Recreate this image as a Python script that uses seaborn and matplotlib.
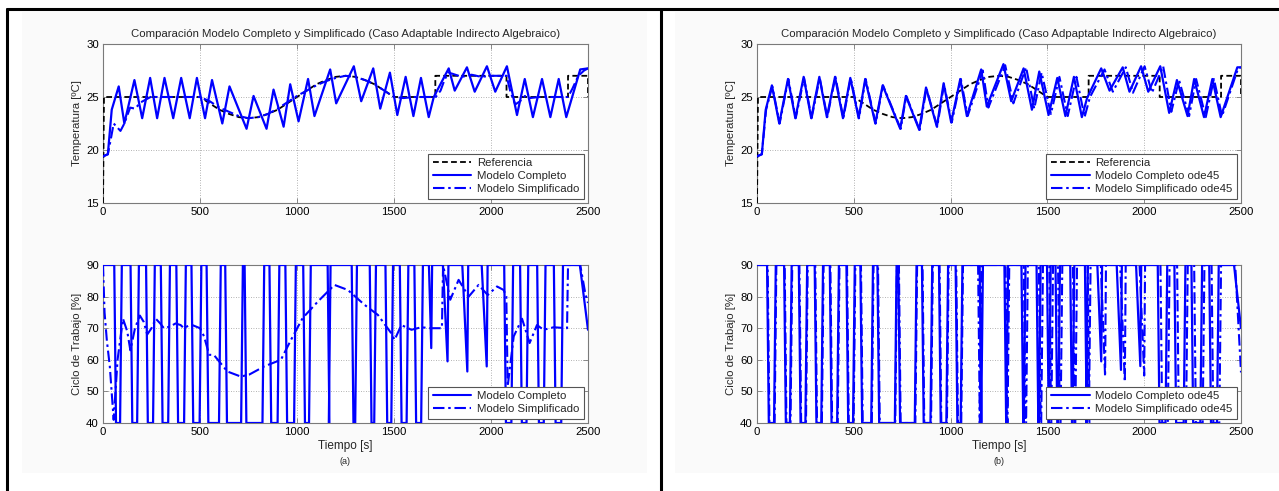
import matplotlib
matplotlib.use("Agg")
import matplotlib.pyplot as plt
import seaborn as sns
import pandas as pd
from matplotlib.lines import Line2D
from matplotlib.patches import Rectangle

# ---------------------------------------------------------------- data
# Reference temperature profile [s], [ºC]
ref_t = [0, 5, 500, 550, 600, 650, 700, 750, 800, 850, 900, 950, 1000, 1050,
         1100, 1150, 1200, 1250, 1300, 1350, 1400, 1450, 1500, 1713, 1713,
         2080, 2080, 2397, 2397, 2500, 2500]
ref_T = [15, 25, 25, 24.4, 23.8, 23.4, 23.1, 23.0, 23.1, 23.4, 23.8, 24.4, 25.0, 25.6,
         26.2, 26.6, 26.9, 27.0, 26.9, 26.6, 26.2, 25.6, 25.0, 25.0, 27.0,
         27.0, 25.0, 25.0, 27.0, 27.0, 25.0]

# (a) full model temperature
a_full_t = [0, 25, 45, 81, 110, 162, 202, 243, 279, 317, 362, 403, 447, 484, 526,
            562, 615, 652, 740, 776, 843, 879, 931, 965, 1008, 1057, 1090, 1171,
            1202, 1293, 1331, 1393, 1429, 1479, 1517, 1560, 1600, 1639, 1679,
            1705, 1782, 1813, 1876, 1916, 1979, 2022, 2082, 2134, 2174, 2216,
            2263, 2306, 2349, 2388, 2460, 2500]
a_full_T = [19.4, 19.6, 23.8, 26.0, 22.5, 26.6, 23.0, 26.8, 23.0, 26.8, 23.0, 26.8,
            23.0, 26.8, 23.0, 26.6, 22.5, 26.0, 22.0, 25.1, 22.0, 25.7, 22.2, 26.2,
            22.7, 26.7, 23.2, 27.6, 24.4, 27.9, 24.6, 27.7, 23.9, 27.3, 23.3, 26.9,
            23.2, 26.8, 23.1, 25.0, 27.7, 25.6, 27.8, 25.5, 27.9, 25.5, 27.9, 23.3,
            26.7, 23.1, 26.7, 23.1, 26.7, 23.1, 27.6, 27.7]

# (a) simplified model temperature
a_simp_t = [0, 25, 40, 55, 70, 90, 110, 140, 165, 195, 245, 300, 500, 550, 600,
            650, 700, 750, 800, 850, 900, 950, 1000, 1050, 1100, 1150, 1200,
            1250, 1300, 1350, 1400, 1450, 1500, 1550, 1600, 1650, 1715, 1740,
            1760, 1780, 1800, 1850, 1900, 1950, 2000, 2050, 2080, 2100, 2125,
            2150, 2175, 2200, 2250, 2300, 2397, 2420, 2450, 2480, 2500]
a_simp_T = [19.4, 19.6, 21.0, 22.5, 22.2, 21.8, 22.5, 24.0, 23.9, 24.5, 25.0, 25.0,
            25.0, 24.6, 24.0, 23.6, 23.2, 23.0, 23.1, 23.4, 23.9, 24.5, 25.1, 25.6,
            26.1, 26.5, 26.8, 27.0, 26.9, 26.6, 26.2, 25.6, 25.0, 24.9, 25.0, 25.0,
            25.0, 25.6, 26.6, 27.3, 27.2, 26.9, 27.1, 26.9, 27.0, 27.0, 27.0, 25.5,
            24.3, 24.6, 25.1, 24.9, 25.0, 25.0, 25.0, 25.8, 27.0, 27.5, 27.7]

# (b) full model temperature (ode45)
b_full_t = [0, 25, 45, 77, 115, 160, 198, 241, 280, 322, 361, 403, 444, 482, 525,
            559, 611, 649, 740, 769, 838, 873, 929, 964, 1003, 1050, 1084, 1158,
            1187, 1273, 1313, 1377, 1420, 1458, 1506, 1551, 1593, 1637, 1678,
            1705, 1778, 1821, 1889, 1924, 1984, 2021, 2083, 2129, 2169, 2224,
            2258, 2309, 2352, 2395, 2481, 2500]
b_full_T = [19.4, 19.6, 23.8, 26.1, 22.5, 26.7, 23.0, 26.9, 23.0, 26.9, 23.1, 26.9,
            23.0, 26.8, 23.0, 26.7, 22.5, 26.1, 22.0, 25.1, 21.9, 25.9, 22.2, 26.3,
            22.6, 26.7, 23.2, 27.6, 24.1, 28.1, 24.6, 27.7, 23.8, 27.4, 23.3, 26.8,
            23.2, 26.9, 23.1, 24.9, 27.7, 25.6, 27.8, 25.5, 27.9, 25.5, 27.9, 23.5,
            26.6, 23.2, 26.7, 23.1, 26.7, 23.1, 27.8, 27.8]

# (b) simplified model temperature (ode45)
b_simp_t = [0, 25, 47, 79, 117, 162, 200, 243, 282, 324, 363, 405, 446, 484, 527,
            561, 613, 651, 742, 771, 840, 875, 931, 966, 1006, 1053, 1088, 1166,
            1195, 1282, 1324, 1390, 1432, 1470, 1518, 1562, 1605, 1650, 1692,
            1720, 1795, 1838, 1905, 1942, 2002, 2040, 2098, 2140, 2180, 2232,
            2268, 2318, 2360, 2402, 2485, 2500]
b_simp_T = [19.4, 19.6, 23.8, 26.0, 22.5, 26.7, 23.0, 26.8, 23.0, 26.8, 23.1, 26.9,
            23.0, 26.8, 23.0, 26.7, 22.5, 26.1, 22.0, 25.1, 21.9, 25.8, 22.2, 26.2,
            22.6, 26.7, 23.2, 27.5, 24.0, 28.0, 24.4, 27.8, 23.9, 27.3, 23.4, 26.9,
            23.2, 26.9, 23.1, 25.0, 27.6, 25.5, 27.8, 25.4, 27.9, 25.4, 27.9, 23.6,
            26.6, 23.2, 26.7, 23.1, 26.7, 23.2, 27.7, 27.8]

# Duty cycle of the switching controllers: heater-off windows
# (start of fall, start of rise, lowest value) and shallow dips
# (start of fall, time of minimum, lowest value)
a_full_off = [(58, 88, 40), (142, 176, 40), (222, 258, 40), (298, 336, 40),
              (378, 418, 40), (456, 498, 40), (534, 598, 40), (630, 712, 40),
              (730, 822, 40), (858, 900, 40), (940, 985, 40), (1032, 1062, 40),
              (1158, 1164, 40), (1282, 1300, 40), (1375, 1398, 40),
              (1456, 1486, 40), (1530, 1565, 40), (1605, 1640, 40),
              (2068, 2105, 40), (2150, 2183, 40), (2238, 2272, 40),
              (2324, 2362, 40)]
a_full_dips = [(1680, 1692, 63.7), (1752, 1776, 59.5), (1852, 1878, 56.3),
               (1952, 1978, 57.9)]
a_full_end = (2458, 69.5)

b_full_off = [(52, 88, 40), (140, 170, 40), (216, 250, 40), (298, 332, 40),
              (376, 414, 40), (462, 496, 40), (534, 590, 40), (622, 712, 40),
              (730, 815, 40), (852, 896, 40), (940, 978, 40), (1026, 1052, 40),
              (1150, 1158, 40), (1278, 1288, 40), (1366, 1378, 40),
              (1444, 1456, 40), (1498, 1508, 40), (1542, 1556, 40),
              (1618, 1630, 40), (1694, 1700, 40), (2070, 2110, 40),
              (2156, 2204, 40), (2244, 2290, 40), (2336, 2376, 40)]
b_full_dips = [(1758, 1778, 59.5), (1858, 1880, 56.8), (1958, 1980, 58.0)]
b_full_end = (2464, 70.0)

b_simp_off = [(55, 91, 40), (143, 173, 40), (219, 253, 40), (301, 335, 40),
              (379, 417, 40), (465, 499, 40), (537, 593, 40), (625, 714, 40),
              (733, 818, 40), (855, 899, 40), (943, 981, 40), (1029, 1055, 40),
              (1142, 1150, 40), (1284, 1294, 40), (1378, 1390, 40),
              (1456, 1468, 40), (1510, 1520, 40), (1555, 1568, 40),
              (1632, 1644, 40), (1708, 1714, 40), (2084, 2122, 40),
              (2170, 2216, 40), (2258, 2302, 40), (2348, 2388, 40)]
b_simp_dips = [(1776, 1798, 54.7), (1876, 1900, 53.0), (1976, 2000, 55.0)]
b_simp_end = (2470, 56.0)

# (a) simplified model duty cycle (continuous)
a_simp_dt = [0, 8, 20, 35, 55, 75, 103, 125, 141, 165, 190, 210, 228, 250, 272,
             295, 314, 345, 374, 400, 417, 440, 460, 500, 521, 547, 572, 641,
             710, 753, 831, 917, 969, 1029, 1107, 1193, 1262, 1348, 1417, 1486,
             1503, 1538, 1590, 1641, 1687, 1747, 1753, 1790, 1833, 1885, 1936,
             1983, 2031, 2065, 2079, 2086, 2117, 2160, 2199, 2237, 2271, 2323,
             2392, 2397, 2460, 2486, 2500]
a_simp_d = [90, 75, 66, 58, 41, 60, 73, 69, 63, 70, 74, 72, 68, 70, 73,
            71.5, 70, 70.5, 71.5, 71, 70, 70.8, 71, 70, 67.4, 61.6, 61.5, 56.3,
            54.7, 55.3, 57.9, 60.0, 66.3, 73.2, 78.4, 83.7, 82.1, 77.4, 74.2, 68.4,
            66.3, 71.0, 69.5, 70.3, 70.0, 70.0, 90.0, 79.0, 85.3, 80.0, 83.7,
            80.5, 83.2, 82.1, 80.0, 51.6, 67.4, 73.0, 65.3, 71.0, 69.5, 70.3,
            70.0, 90.0, 90.0, 81.0, 78.0]

RAMP = 9  # switching slew of the actuator [s]


def duty_trace(off, dips, end):
    events = [("off", *w) for w in off] + [("dip", *d) for d in dips]
    events.sort(key=lambda e: e[1])
    t, v = [0.0], [90.0]
    for kind, a, b, low in events:
        if kind == "off":
            t += [a, a + RAMP, b, b + RAMP]
            v += [90, low, low, 90]
        else:
            t += [a, b, b + RAMP / 2]
            v += [90, low, 90]
    t += [end[0], 2500]
    v += [90, end[1]]
    return pd.DataFrame({"t": t, "d": v})


# ---------------------------------------------------------------- style
sns.set_theme(style="white")
plt.rcParams["font.family"] = ["Liberation Sans", "DejaVu Sans"]
FS = 8.2
BLUE = "#0000ff"
DASHDOT = (0, (5.5, 1.8, 1.2, 1.8))
DASHED = (0, (3.2, 1.8))
SPINE = "#7a7a7a"

W, H = 1279, 491
fig = plt.figure(figsize=(W / 100, H / 100), dpi=100)
fig.patch.set_facecolor("white")

# light backdrop behind each panel and the frame lines
for x0, x1 in [(22, 647), (675, 1279)]:
    fig.add_artist(Rectangle((x0 / W, 1 - 473 / H), (x1 - x0) / W, (473 - 12) / H,
                             transform=fig.transFigure, facecolor="#fafafa",
                             edgecolor="none", zorder=-10))
for xs, ys in [([7 / W, 7 / W], [0, 1 - 9 / H]),
               ([7 / W, 1], [1 - 9 / H, 1 - 9 / H]),
               ([661 / W, 661 / W], [0, 1 - 9 / H])]:
    fig.add_artist(Line2D(xs, ys, transform=fig.transFigure, color="black", lw=2.2))


def make_ax(x0, x1, y0, y1):
    return fig.add_axes([x0 / W, 1 - y1 / H, (x1 - x0) / W, (y1 - y0) / H])


def style_ax(ax, ylim, yticks, ylabel):
    ax.set_facecolor("white")
    ax.set_xlim(0, 2500)
    ax.set_ylim(*ylim)
    ax.set_xticks([0, 500, 1000, 1500, 2000, 2500])
    ax.set_yticks(yticks)
    ax.grid(True, linestyle=(0, (1, 2)), color="#9a9a9a", linewidth=0.6)
    ax.tick_params(direction="in", length=3.5, width=0.6, colors=SPINE,
                   labelcolor="black", labelsize=FS, top=True, right=True,
                   bottom=True, left=True, pad=3)
    for s in ax.spines.values():
        s.set_color(SPINE)
        s.set_linewidth(0.8)
    ax.set_ylabel(ylabel, fontsize=FS, labelpad=3)
    ax.set_xlabel("")


def legend(ax, handles, labels):
    leg = ax.legend(handles, labels, loc="lower right", fontsize=FS,
                    frameon=True, fancybox=False, framealpha=1,
                    edgecolor="#555555", borderaxespad=0.35, handlelength=3.4,
                    handletextpad=0.5, labelspacing=0.28, borderpad=0.4)
    leg.get_frame().set_linewidth(0.8)


h_ref = Line2D([], [], color="black", lw=1.3, linestyle=DASHED)
h_full = Line2D([], [], color=BLUE, lw=1.5)
h_simp = Line2D([], [], color=BLUE, lw=1.5, linestyle=DASHDOT)

panels = [
    dict(x0=103, x1=588, full=(a_full_t, a_full_T), simp=(a_simp_t, a_simp_T),
         dfull=duty_trace(a_full_off, a_full_dips, a_full_end),
         dsimp=pd.DataFrame({"t": a_simp_dt, "d": a_simp_d}),
         title="Comparación Modelo Completo y Simplificado (Caso Adaptable Indirecto Algebraico)",
         names=["Modelo Completo", "Modelo Simplificado"], tag="(a)"),
    dict(x0=757, x1=1241, full=(b_full_t, b_full_T), simp=(b_simp_t, b_simp_T),
         dfull=duty_trace(b_full_off, b_full_dips, b_full_end),
         dsimp=duty_trace(b_simp_off, b_simp_dips, b_simp_end),
         title="Comparación Modelo Completo y Simplificado (Caso Adpaptable Indirecto Algebraico)",
         names=["Modelo Completo ode45", "Modelo Simplificado ode45"], tag="(b)"),
]

for p in panels:
    # temperature
    ax = make_ax(p["x0"], p["x1"], 44, 203)
    sns.lineplot(x=ref_t, y=ref_T, ax=ax, estimator=None, sort=False,
                 color="black", lw=1.3, linestyle=DASHED, zorder=3)
    sns.lineplot(x=p["full"][0], y=p["full"][1], ax=ax, estimator=None, sort=False,
                 color=BLUE, lw=1.6, zorder=4)
    sns.lineplot(x=p["simp"][0], y=p["simp"][1], ax=ax, estimator=None, sort=False,
                 color=BLUE, lw=1.5, linestyle=DASHDOT, zorder=5)
    style_ax(ax, (15, 30), [15, 20, 25, 30], "Temperatura [ºC]")
    ax.set_title(p["title"], fontsize=FS, pad=5)
    legend(ax, [h_ref, h_full, h_simp], ["Referencia"] + p["names"])

    # duty cycle
    ax2 = make_ax(p["x0"], p["x1"], 265, 423)
    sns.lineplot(data=p["dfull"], x="t", y="d", ax=ax2, estimator=None, sort=False,
                 color=BLUE, lw=1.6, zorder=4)
    sns.lineplot(data=p["dsimp"], x="t", y="d", ax=ax2, estimator=None, sort=False,
                 color=BLUE, lw=1.5, linestyle=DASHDOT, zorder=5)
    style_ax(ax2, (40, 90), [40, 50, 60, 70, 80, 90], "Ciclo de Trabajo [%]")
    ax2.set_xlabel("Tiempo [s]", fontsize=FS + 0.3, labelpad=2)
    legend(ax2, [h_full, h_simp], p["names"])
    cx = (p["x0"] + p["x1"]) / 2
    fig.text(cx / W, 1 - 462 / H, p["tag"], fontsize=6.5, ha="center", va="center")

fig.savefig("out.png", dpi=100, facecolor="white")
